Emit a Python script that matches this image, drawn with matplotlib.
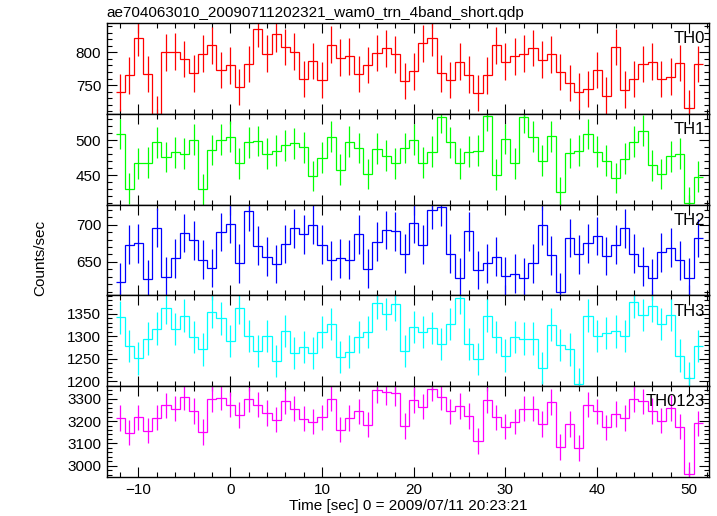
import numpy as np
import matplotlib.pyplot as plt
from matplotlib.ticker import MultipleLocator

plt.rcParams['font.family'] = ['Liberation Sans', 'DejaVu Sans']

# bin centres: 1 s bins from -12 to 51
time = np.arange(-12, 52)

th0 = [739, 765, 822, 767, 705, 800, 801, 790, 768, 798, 811, 773, 780, 747, 782, 836,
       798, 828, 808, 801, 759, 787, 758, 812, 792, 794, 767, 781, 799, 806, 797, 756,
       771, 814, 822, 768, 758, 786, 766, 738, 765, 811, 786, 794, 798, 807, 789, 797,
       770, 753, 740, 744, 773, 734, 808, 743, 759, 782, 786, 759, 763, 784, 715, 782]
th1 = [509, 431, 467, 468, 497, 476, 483, 481, 501, 430, 486, 501, 505, 467, 497, 499,
       481, 485, 493, 496, 490, 449, 475, 505, 458, 498, 489, 452, 488, 478, 467, 489,
       501, 468, 484, 533, 497, 467, 484, 485, 535, 451, 502, 467, 533, 505, 471, 506,
       426, 482, 485, 509, 484, 471, 446, 474, 498, 514, 464, 452, 477, 481, 411, 448]
th2 = [623, 673, 675, 627, 696, 630, 655, 689, 679, 653, 642, 690, 701, 648, 718, 672,
       657, 647, 674, 695, 687, 700, 673, 652, 655, 653, 687, 641, 677, 693, 691, 661,
       702, 673, 720, 724, 661, 629, 691, 639, 648, 657, 631, 634, 629, 648, 699, 659,
       609, 682, 660, 675, 685, 658, 673, 695, 661, 644, 628, 663, 669, 652, 629, 682]
th3 = [1342, 1279, 1251, 1295, 1317, 1363, 1316, 1346, 1299, 1271, 1355, 1340, 1289, 1364, 1301, 1267,
       1301, 1245, 1312, 1263, 1276, 1263, 1310, 1328, 1254, 1266, 1299, 1310, 1375, 1349, 1371, 1268,
       1321, 1310, 1319, 1283, 1327, 1386, 1283, 1250, 1346, 1299, 1257, 1299, 1295, 1295, 1230, 1326,
       1280, 1271, 1194, 1346, 1301, 1308, 1311, 1300, 1377, 1348, 1368, 1327, 1348, 1257, 1207, 1279]
th0123 = [3213, 3148, 3217, 3157, 3216, 3270, 3256, 3306, 3246, 3151, 3298, 3305, 3274, 3228, 3297, 3274,
          3237, 3207, 3288, 3256, 3211, 3198, 3217, 3300, 3162, 3213, 3243, 3184, 3339, 3329, 3324, 3177,
          3294, 3265, 3345, 3308, 3243, 3268, 3223, 3112, 3294, 3217, 3175, 3198, 3256, 3256, 3187, 3286,
          3085, 3187, 3080, 3274, 3243, 3172, 3232, 3213, 3298, 3288, 3246, 3202, 3259, 3175, 2962, 3190]

bands = [th0, th1, th2, th3, th0123]
names = ['TH0', 'TH1', 'TH2', 'TH3', 'TH0123']
colors = ['#ff0000', '#00ff00', '#0000ff', '#00ffff', '#ff00ff']
errors = [28, 22, 26, 36, 57]            # typical 1-sigma per band
ylims = [(706, 845), (408, 538), (605, 727), (1189, 1391), (2950, 3356)]
ymajor = [50, 50, 50, 50, 100]
yminor = [10, 10, 10, 10, 20]

fig = plt.figure(figsize=(7.17, 5.16), dpi=100)
left, right, bottom, top = 0.149, 0.989, 0.0756, 0.9554
h = (top - bottom) / 5

edges = np.append(time - 0.5, time[-1] + 0.5)
axes = []
for i, vals in enumerate(bands):
    ax = fig.add_axes([left, top - (i + 1) * h, right - left, h])
    vals = np.array(vals)
    ax.stairs(vals, edges, baseline=None, color=colors[i], lw=0.9)
    ax.vlines(time, vals - errors[i], vals + errors[i], color=colors[i], lw=0.9)
    ax.set_xlim(-13.45, 52.2)
    ax.set_ylim(*ylims[i])
    ax.xaxis.set_major_locator(MultipleLocator(10))
    ax.xaxis.set_minor_locator(MultipleLocator(2))
    ax.yaxis.set_major_locator(MultipleLocator(ymajor[i]))
    ax.yaxis.set_minor_locator(MultipleLocator(yminor[i]))
    ax.tick_params(which='both', direction='in', top=True, right=True, labelsize=11)
    ax.tick_params(which='major', length=7, width=0.8, pad=4)
    ax.tick_params(which='minor', length=3.5, width=0.8)
    for s in ax.spines.values():
        s.set_linewidth(1.0)
    if i < 4:
        ax.tick_params(labelbottom=False)
    ax.text(0.993, 0.91, names[i], transform=ax.transAxes, ha='right', va='top', fontsize=12)
    axes.append(ax)

axes[-1].set_xlabel('Time [sec] 0 = 2009/07/11 20:23:21', fontsize=11, labelpad=2)
fig.text(0.056, 0.5, 'Counts/sec', rotation=90, ha='center', va='center', fontsize=11)
fig.text(left, 0.962, 'ae704063010_20090711202321_wam0_trn_4band_short.qdp',
         ha='left', va='bottom', fontsize=11)

fig.savefig('out.png', dpi=100)
